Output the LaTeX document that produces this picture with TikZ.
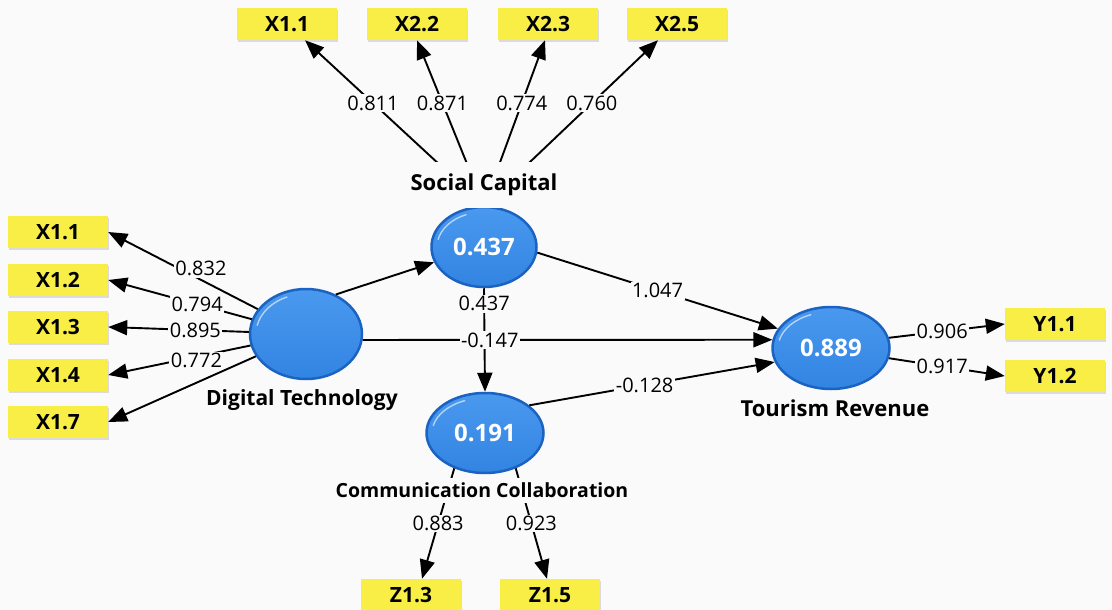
\documentclass[tikz,border=0pt]{standalone}
\usepackage{fontspec}
\setmainfont{Open Sans}
\usetikzlibrary{arrows, arrows.meta, shapes.geometric, shadows}

\definecolor{itemyellow}{HTML}{F8EE45}
\definecolor{lvblueL}{HTML}{4A99EF}
\definecolor{lvblueD}{HTML}{3284E2}
\definecolor{lvrim}{HTML}{1B63C2}
\definecolor{paper}{HTML}{FAFAFA}

\tikzset{
  item/.style={fill=itemyellow, minimum width=100pt, minimum height=32pt, inner sep=0pt,
    font=\fontsize{21}{21}\selectfont\bfseries,
    drop shadow={shadow xshift=0.6pt, shadow yshift=-1.6pt, opacity=0.25}},
  latent/.style={ellipse, top color=lvblueL, bottom color=lvblueD, draw=lvrim, line width=2.5pt,
    inner sep=0pt, text=white, font=\fontsize{24}{24}\selectfont\bfseries},
  glint/.style 2 args={path picture={
    \draw[white, opacity=0.6, line width=1.4pt]
      (path picture bounding box.center) ++(-168:{#1} and {#2})
      arc[start angle=-168, end angle=-112, x radius=#1, y radius=#2];}},
  lvname/.style={fill=paper, inner sep=2pt, font=\fontsize{20}{20}\selectfont\bfseries},
  coef/.style={fill=paper, inner sep=1.5pt, font=\fontsize{20}{20}\selectfont},
  load/.style={line width=1.9pt, -{Triangle[length=19pt,width=15pt]}},
}

\begin{document}
\begin{tikzpicture}[x=1pt, y=-1pt]
\useasboundingbox (0,0) rectangle (1112,610);
\fill[paper] (0,0) rectangle (1112,610);

% indicators
\node[item] (x11t) at (287,24) {X1.1};
\node[item] (x22) at (417,24) {X2.2};
\node[item] (x23) at (548,24) {X2.3};
\node[item] (x25) at (677,24) {X2.5};

\node[item] (x11) at (58,232) {X1.1};
\node[item] (x12) at (58,280) {X1.2};
\node[item] (x13) at (58,327) {X1.3};
\node[item] (x14) at (58,375) {X1.4};
\node[item] (x17) at (58,422) {X1.7};

\node[item] (y11) at (1055,324) {Y1.1};
\node[item] (y12) at (1055,376) {Y1.2};

\node[item] (z13) at (411,595) {Z1.3};
\node[item] (z15) at (550,595) {Z1.5};

% latent variables
\node[latent, glint={50}{40}, minimum width=112pt, minimum height=90pt] (dt) at (306,334) {};
\node[latent, glint={47}{35}, minimum width=105pt, minimum height=80pt] (sc) at (484,247) {0.437};
\node[latent, glint={53}{35}, minimum width=117pt, minimum height=80pt] (cc) at (485,433) {0.191};
\node[latent, glint={53}{36}, minimum width=117pt, minimum height=82pt] (tr) at (831,348) {0.889};

% outer loadings
\draw[load] (sc.north) -- node[coef, pos=0.62] {0.811} ([xshift=18pt]x11t.south);
\draw[load] (sc.north) -- node[coef, pos=0.62] {0.871} (x22.south);
\draw[load] (sc.north) -- node[coef, pos=0.62] {0.774} ([xshift=-3pt]x23.south);
\draw[load] (sc.north) -- node[coef, pos=0.62] {0.760} ([xshift=-19pt]x25.south);

\draw[load] (dt) -- node[coef, pos=0.38, yshift=11pt] {0.832} (x11.east);
\draw[load] (dt) -- (x17.east);
\draw[load] (dt) -- node[coef, pos=0.38] {0.794} (x12.east);
\draw[load] (dt) -- node[coef, pos=0.38] {0.895} (x13.east);
\draw[load] (dt) -- node[coef, pos=0.38, yshift=-4pt] {0.772} (x14.east);

\draw[load] (tr.10) -- node[coef, pos=0.46] {0.906} (y11.west);
\draw[load] (tr.-10) -- node[coef, pos=0.46] {0.917} (y12.west);

\draw[load] (cc.229) -- node[coef, pos=0.5] {0.883} ([xshift=11pt]z13.north);
\draw[load] (cc.311) -- node[coef, pos=0.5] {0.923} ([xshift=-3pt]z15.north);

% path coefficients
\draw[load] (dt.53) -- (sc.197);
\draw[load] (sc.south) -- node[coef, pos=0.15] {0.437} (cc.north);
\draw[load] (sc.-6) -- node[coef, pos=0.5] {1.047} (tr.160);
\draw[load] (dt.-6) -- node[coef, pos=0.31] {-0.147} (tr.172);
\draw[load] (cc.32) -- node[coef, pos=0.47] {-0.128} (tr.194);

% construct names
\node[lvname, inner ysep=12pt, font=\fontsize{22}{22}\selectfont\bfseries] (scname) at (484,185) {Social Capital};
\node[lvname, font=\fontsize{21}{21}\selectfont\bfseries] (dtname) at (302,400) {Digital Technology};
\node[lvname, inner ysep=5pt, font=\fontsize{19.5}{20}\selectfont\bfseries] (ccname) at (482,490) {Communication Collaboration};
\node[lvname, font=\fontsize{22}{22}\selectfont\bfseries] (trname) at (835,408) {Tourism Revenue};
\end{tikzpicture}
\end{document}
